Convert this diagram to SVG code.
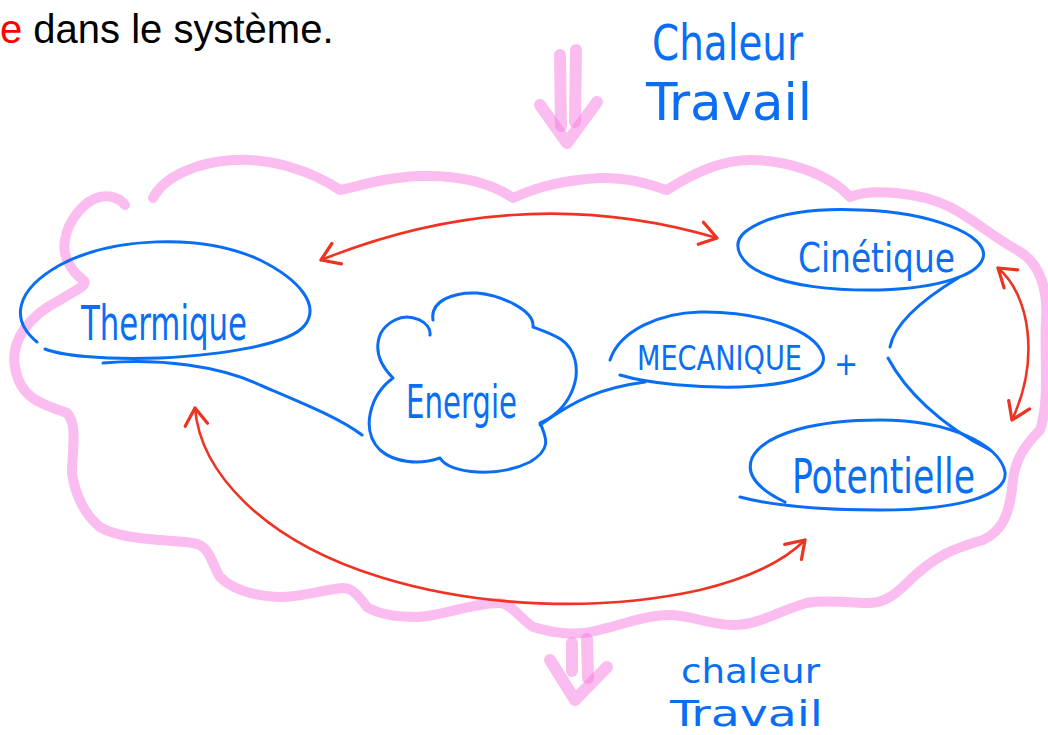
<svg xmlns="http://www.w3.org/2000/svg" width="1048" height="735" viewBox="0 0 1048 735">
<style>
.pink{fill:none;stroke:#f87ae0;stroke-opacity:0.5;stroke-linecap:round;stroke-linejoin:round}
.blue{fill:none;stroke:#0a6ef5;stroke-width:3;stroke-linecap:round;stroke-linejoin:round}
.red{fill:none;stroke:#ee3322;stroke-width:2.6;stroke-linecap:round}
.hw{font-family:"DejaVu Sans Condensed","DejaVu Sans",sans-serif;fill:#0a6ef5}
.print{font-family:"Liberation Sans",Arial,sans-serif;font-size:40px}
</style>
<defs>
<marker id="head" markerUnits="userSpaceOnUse" markerWidth="30" markerHeight="30" refX="0" refY="0" viewBox="-16 -12 20 24" orient="auto-start-reverse">
<path d="M -14,-9 L 0,0 L -13,9" fill="none" stroke="#ee3322" stroke-width="2.6" stroke-linecap="round" stroke-linejoin="round"/>
</marker>
</defs>
<rect width="1048" height="735" fill="#ffffff"/>

<text class="print" x="0" y="43"><tspan fill="#ff0000">e</tspan><tspan fill="#000000"> dans le système.</tspan></text>

<g id="system-boundary">
<path class="pink" stroke-width="10" d="M 153,198 C 165,175 200,162 233,160 C 270,158 310,170 340,190 C 365,185 380,178 420,176 C 460,175 490,182 513,198 C 530,190 560,180 600,178 C 630,177 650,185 667,190 C 690,175 720,160 750,160 C 790,160 830,175 850,197 C 870,188 920,192 950,207 C 975,220 990,235 1017,250 C 1040,262 1048,290 1046,320 C 1044,360 1050,400 1040,430 C 1025,445 1015,460 1013,480 C 1010,510 1005,530 983,540 C 955,548 935,555 907,583 C 890,600 880,603 867,603 C 840,602 825,600 807,603 C 780,610 760,625 733,625 C 710,625 690,615 670,615 C 640,615 610,630 583,633 C 560,635 545,630 533,627 C 520,618 510,603 500,603 C 470,603 440,617 417,617 C 390,617 375,612 367,607 C 358,595 352,588 343,588 C 320,590 300,598 277,597 C 245,595 228,585 220,577 C 212,565 210,545 193,543 C 170,540 120,540 100,527 C 85,515 75,495 72,473 C 72,450 78,425 67,413 C 45,405 20,400 15,367 C 10,340 30,315 60,300 C 75,290 90,285 83,280 C 70,270 62,255 65,240 C 68,220 85,200 100,197 C 110,195 120,198 125,205"/>
</g>

<g id="arrow-in">
<path class="pink" stroke-width="12" d="M 560,55 L 561,126"/>
<path class="pink" stroke-width="12" d="M 576,50 L 575,122"/>
<path class="pink" stroke-width="12" d="M 540,105 L 567,143 L 597,102"/>
</g>
<g id="arrow-out">
<path class="pink" stroke-width="12" d="M 572,643 L 572,671"/>
<path class="pink" stroke-width="12" d="M 587,639 L 588,678"/>
<path class="pink" stroke-width="12" d="M 550,660 L 575,700 L 607,667"/>
</g>

<g id="label-in">
<text class="hw" x="652" y="60" font-size="50" textLength="151" lengthAdjust="spacingAndGlyphs">Chaleur</text>
<text class="hw" x="646" y="120" font-size="52" textLength="166" lengthAdjust="spacingAndGlyphs">Travail</text>
</g>
<g id="label-out">
<text class="hw" x="681" y="683" font-size="34" textLength="139" lengthAdjust="spacingAndGlyphs">chaleur</text>
<text class="hw" x="670" y="726" font-size="36" textLength="153" lengthAdjust="spacingAndGlyphs">Travail</text>
</g>

<g id="connectors">
<path class="blue" d="M 103,363 C 160,358 220,366 260,385 C 300,402 340,418 362,435"/>
<path class="blue" d="M 540,425 C 575,400 600,388 645,382"/>
<path class="blue" d="M 958,278 C 930,295 895,320 890,347"/>
<path class="blue" d="M 888,358 C 905,390 940,425 990,450"/>
<path class="red" marker-start="url(#head)" marker-end="url(#head)" d="M 321,260 Q 520,180 717,238"/>
<path class="red" marker-start="url(#head)" marker-end="url(#head)" d="M 998,268 C 1030,295 1040,360 1012,420"/>
<path class="red" marker-start="url(#head)" marker-end="url(#head)" d="M 195,408 C 200,470 260,540 380,577 C 480,608 600,612 700,590 C 750,578 785,560 805,540"/>
</g>

<g id="node-thermique">
<path class="blue" d="M 37,342 C 10,320 15,290 60,265 C 110,238 200,232 260,260 C 300,280 320,305 305,325 C 290,345 220,355 160,358 C 100,360 60,355 45,349"/>
<text class="hw" x="81" y="340" font-size="48" textLength="166" lengthAdjust="spacingAndGlyphs">Thermique</text>
</g>

<g id="node-energie">
<path class="blue" d="M 430,335 C 432,322 410,312 395,320 C 375,330 370,355 393,378 C 370,395 360,430 380,450 C 395,463 420,465 440,458 C 450,475 500,477 530,462 C 550,450 548,440 540,423 C 570,410 580,380 575,360 C 570,340 555,335 533,327 C 535,310 500,295 477,293 C 455,292 430,300 433,320"/>
<text class="hw" x="406" y="418" font-size="46" textLength="111" lengthAdjust="spacingAndGlyphs">Energie</text>
</g>

<g id="node-mecanique">
<path class="blue" d="M 610,360 C 620,330 660,313 700,312 C 760,311 815,330 823,355 C 828,375 790,385 740,387 C 700,388 650,384 620,375"/>
<text class="hw" x="637" y="370" font-size="34" textLength="165" lengthAdjust="spacingAndGlyphs">MECANIQUE</text>
<text class="hw" x="846" y="375" font-size="32" text-anchor="middle">+</text>
</g>

<g id="node-cinetique">
<path class="blue" d="M 767,275 C 740,265 730,245 745,232 C 770,212 820,208 860,210 C 930,212 990,235 983,258 C 978,275 940,288 880,290 C 830,291 790,285 767,275"/>
<text class="hw" x="798" y="272" font-size="40" textLength="157" lengthAdjust="spacingAndGlyphs">Cinétique</text>
</g>

<g id="node-potentielle">
<path class="blue" d="M 785,502 C 760,490 745,475 752,458 C 765,432 820,420 880,420 C 950,420 1000,445 1005,472 C 1008,495 960,510 880,510 C 820,510 770,505 740,497"/>
<text class="hw" x="792" y="493" font-size="48" textLength="183" lengthAdjust="spacingAndGlyphs">Potentielle</text>
</g>
</svg>
